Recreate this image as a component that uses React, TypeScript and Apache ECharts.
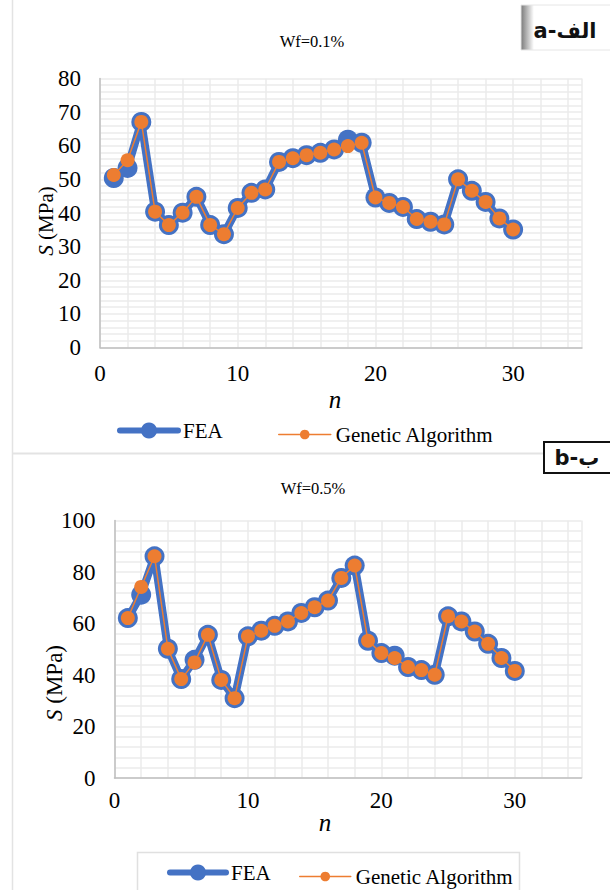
import React, { useEffect, useRef } from "react";
import * as echarts from "echarts";

const nValues = [1, 2, 3, 4, 5, 6, 7, 8, 9, 10, 11, 12, 13, 14, 15, 16, 17, 18, 19, 20, 21, 22, 23, 24, 25, 26, 27, 28, 29, 30];

// Wf = 0.1 %
const feaA = [50.4, 53.4, 67.1, 40.4, 36.4, 40.1, 44.8, 36.4, 33.7, 41.5, 46.0, 47.0, 55.2, 56.3, 57.2, 57.9, 58.9, 61.8, 60.9, 44.6, 43.0, 41.8, 38.2, 37.4, 36.6, 50.0, 46.6, 43.3, 38.4, 35.1];
const gaA = [51.3, 55.7, 67.1, 40.4, 36.4, 40.1, 44.8, 36.4, 33.7, 41.5, 46.0, 47.0, 55.2, 56.3, 57.2, 57.9, 58.9, 59.9, 60.9, 44.6, 43.0, 41.8, 38.2, 37.4, 36.6, 50.0, 46.6, 43.3, 38.4, 35.1];

// Wf = 0.5 %
const feaB = [62.1, 71.2, 86.1, 50.2, 38.4, 45.9, 55.6, 38.1, 31.0, 55.0, 57.2, 59.1, 60.8, 64.1, 66.3, 68.9, 77.7, 82.5, 53.3, 48.5, 47.5, 43.1, 41.9, 40.1, 62.8, 60.8, 56.9, 52.1, 46.6, 41.6];
const gaB = [62.1, 74.2, 86.1, 50.2, 38.4, 44.9, 55.6, 38.1, 31.0, 55.0, 57.2, 59.1, 60.8, 64.1, 66.3, 68.9, 77.7, 82.5, 53.3, 48.5, 46.6, 43.1, 41.9, 40.1, 62.8, 60.8, 56.9, 52.1, 46.6, 41.6];

const titles = ["Wf=0.1%", "Wf=0.5%"];
const seriesNames = ["FEA", "Genetic Algorithm"];

const SERIF = "Liberation Serif";
const BLUE = "#4472C4";
const ORANGE = "#ED7D31";
const GRID_COLOR = "#ebebeb";

function pairs(vals: number[]) {
  return nValues.map((n, i) => [n, vals[i]]);
}

export default function App() {
  const ref = useRef<HTMLDivElement>(null);
  useEffect(() => {
    document.body.style.margin = "0";
    if (!ref.current) return;
    const chart = echarts.init(ref.current, null, { renderer: "svg" });

    const xAxisBase = (gridIndex: number, margin: number) => ({
      type: "value",
      gridIndex,
      min: 0,
      max: 35,
      interval: 2,
      axisLine: { show: true, lineStyle: { color: "#bfbfbf", width: 1.5 } },
      axisTick: { show: false },
      splitLine: { show: true, lineStyle: { color: GRID_COLOR, width: 1.5 } },
      axisLabel: {
        margin,
        showMaxLabel: false,
        fontFamily: SERIF,
        fontSize: 23,
        color: "#000",
        formatter: (v: number) => (v % 10 === 0 ? String(v) : ""),
      },
    });
    const yAxisBase = (gridIndex: number, max: number, interval: number, labelStep: number, size: number) => ({
      type: "value",
      gridIndex,
      min: 0,
      max,
      interval,
      axisLine: { show: true, lineStyle: { color: "#bfbfbf", width: 1.5 } },
      axisTick: { show: false },
      splitLine: { show: true, lineStyle: { color: GRID_COLOR, width: 1.5 } },
      axisLabel: {
        margin: 19,
        fontFamily: SERIF,
        fontSize: size,
        color: "#000",
        formatter: (v: number) => (v % labelStep === 0 ? String(v) : ""),
      },
    });

    const feaSeries = (idx: number, data: number[]) => ({
      name: seriesNames[0],
      type: "line",
      xAxisIndex: idx,
      yAxisIndex: idx,
      data: pairs(data),
      symbol: "circle",
      symbolSize: 20,
      lineStyle: { color: BLUE, width: 8, cap: "round", join: "round" },
      itemStyle: { color: BLUE },
      z: 2,
    });
    const gaSeries = (idx: number, data: number[]) => ({
      name: seriesNames[1],
      type: "line",
      xAxisIndex: idx,
      yAxisIndex: idx,
      data: pairs(data),
      symbol: "circle",
      symbolSize: 14,
      lineStyle: { color: ORANGE, width: 1.5 },
      itemStyle: { color: ORANGE },
      z: 3,
    });

    const legendText = { fontFamily: SERIF, fontSize: 21, color: "#000" };
    const legend = (name: string, left: number, top: number, w: number, h: number, lw: number) => ({
      data: [name],
      left,
      top,
      itemWidth: w,
      itemHeight: h,
      itemGap: 0,
      padding: 0,
      selectedMode: false,
      textStyle: legendText,
      lineStyle: { width: lw, cap: "round" },
    });

    const axisName = (x: number, y: number, size: number) => ({
      type: "text",
      x,
      y,
      rotation: Math.PI / 2,
      style: {
        text: "{i|S}{r| (MPa)}",
        fontFamily: SERIF,
        fontSize: size,
        fill: "#000",
        align: "center",
        verticalAlign: "middle",
        rich: {
          i: { fontStyle: "italic", fontFamily: SERIF, fontSize: size, fill: "#000" },
          r: { fontFamily: SERIF, fontSize: size, fill: "#000" },
        },
      },
    });
    const plainText = (text: string, x: number, y: number, size: number, italic = false) => ({
      type: "text",
      x,
      y,
      style: {
        text,
        fontFamily: SERIF,
        fontSize: size,
        fontStyle: italic ? "italic" : "normal",
        fill: "#000",
        align: "center",
        verticalAlign: "middle",
      },
    });

    const option = {
      animation: false,
      backgroundColor: "#fff",
      textStyle: { fontFamily: SERIF },
      grid: [
        { left: 100, top: 78.5, width: 482, height: 269 },
        { left: 114.5, top: 520.5, width: 467, height: 257.5 },
      ],
      xAxis: [xAxisBase(0, 14), xAxisBase(1, 11)],
      yAxis: [yAxisBase(0, 80, 2, 10, 23), yAxisBase(1, 100, 4, 20, 23)],
      legend: [
        legend(seriesNames[0], 117, 420, 58, 20, 6),
        legend(seriesNames[1], 278, 424, 52, 12, 1.5),
        legend(seriesNames[0], 167, 862, 56, 20, 6),
        legend(seriesNames[1], 299, 866, 51, 12, 1.5),
      ],
      series: [feaSeries(0, feaA), gaSeries(0, gaA), feaSeries(1, feaB), gaSeries(1, gaB)],
      graphic: [
        // frames
        { type: "line", shape: { x1: 12.5, y1: 0, x2: 12.5, y2: 890 }, style: { stroke: "#e3e3e3", lineWidth: 1.5 }, silent: true },
        { type: "line", shape: { x1: 12, y1: 453.5, x2: 543, y2: 453.5 }, style: { stroke: "#e3e3e3", lineWidth: 2 }, silent: true },
        { type: "rect", shape: { x: 137.5, y: 852.5, width: 382, height: 40 }, style: { fill: "none", stroke: "#e0e0e0", lineWidth: 1.5 }, silent: true },
        // label box a
        {
          type: "rect",
          shape: { x: 521, y: 5, width: 92, height: 45 },
          style: {
            fill: new echarts.graphic.LinearGradient(0, 0, 1, 0, [
              { offset: 0, color: "#7a7a7a" },
              { offset: 0.1, color: "#d8d8d8" },
              { offset: 0.14, color: "#ffffff" },
              { offset: 1, color: "#ffffff" },
            ]),
            stroke: "#e6e6e6",
            lineWidth: 1,
          },
          silent: true,
        },
        {
          type: "text",
          x: 565,
          y: 31,
          style: { text: "a-الف", fontFamily: "DejaVu Sans", fontWeight: "bold", fontSize: 21, fill: "#111", align: "center", verticalAlign: "middle" },
        },
        // label box b
        { type: "rect", shape: { x: 544, y: 442, width: 70, height: 31 }, style: { fill: "#fff", stroke: "#111", lineWidth: 2 }, silent: true },
        {
          type: "text",
          x: 577,
          y: 458,
          style: { text: "b-ب", fontFamily: "DejaVu Sans", fontWeight: "bold", fontSize: 21, fill: "#111", align: "center", verticalAlign: "middle" },
        },
        // titles
        plainText(titles[0], 312, 41, 16.5),
        plainText(titles[1], 313, 488, 16.5),
        // axis names
        axisName(46, 221, 21),
        axisName(54, 683, 23),
        plainText("n", 335, 399, 25, true),
        plainText("n", 325, 822, 25, true),
      ],
    };

    chart.setOption(option as any);
    return () => chart.dispose();
  }, []);

  return <div ref={ref} style={{ width: 610, height: 890 }} />;
}
